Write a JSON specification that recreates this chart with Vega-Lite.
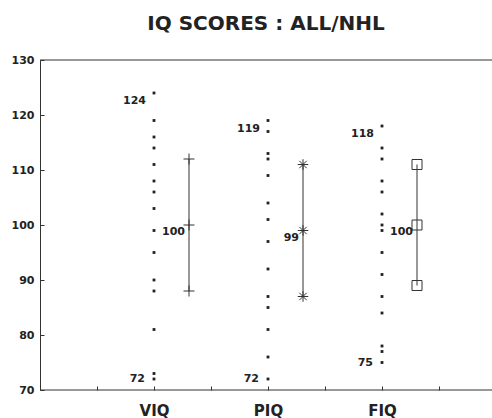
{
  "$schema": "https://vega.github.io/schema/vega-lite/v6.json",
  "width": 452,
  "height": 330,
  "autosize": {"type": "none"},
  "padding": {"left": 40, "top": 60, "right": 0, "bottom": 28},
  "background": "white",
  "config": {"view": {"stroke": null}, "font": "DejaVu Sans"},
  "title": {"text": "IQ SCORES : ALL/NHL", "fontSize": 20, "fontWeight": "bold", "font": "DejaVu Sans", "color": "#222", "offset": 20, "anchor": "middle"},
  "datasets": {
    "scores": [
      {"test": "VIQ", "iq": 124}, {"test": "VIQ", "iq": 119}, {"test": "VIQ", "iq": 116}, {"test": "VIQ", "iq": 114},
      {"test": "VIQ", "iq": 111}, {"test": "VIQ", "iq": 108}, {"test": "VIQ", "iq": 106}, {"test": "VIQ", "iq": 103},
      {"test": "VIQ", "iq": 99}, {"test": "VIQ", "iq": 95}, {"test": "VIQ", "iq": 90}, {"test": "VIQ", "iq": 88},
      {"test": "VIQ", "iq": 81}, {"test": "VIQ", "iq": 73}, {"test": "VIQ", "iq": 72},
      {"test": "PIQ", "iq": 119}, {"test": "PIQ", "iq": 117}, {"test": "PIQ", "iq": 113}, {"test": "PIQ", "iq": 112},
      {"test": "PIQ", "iq": 109}, {"test": "PIQ", "iq": 104}, {"test": "PIQ", "iq": 101}, {"test": "PIQ", "iq": 97},
      {"test": "PIQ", "iq": 92}, {"test": "PIQ", "iq": 87}, {"test": "PIQ", "iq": 85}, {"test": "PIQ", "iq": 81},
      {"test": "PIQ", "iq": 76}, {"test": "PIQ", "iq": 72},
      {"test": "FIQ", "iq": 118}, {"test": "FIQ", "iq": 114}, {"test": "FIQ", "iq": 112}, {"test": "FIQ", "iq": 108},
      {"test": "FIQ", "iq": 106}, {"test": "FIQ", "iq": 102}, {"test": "FIQ", "iq": 100}, {"test": "FIQ", "iq": 99},
      {"test": "FIQ", "iq": 95}, {"test": "FIQ", "iq": 91}, {"test": "FIQ", "iq": 87}, {"test": "FIQ", "iq": 84},
      {"test": "FIQ", "iq": 78}, {"test": "FIQ", "iq": 77}, {"test": "FIQ", "iq": 75}
    ],
    "stats": [
      {"test": "VIQ", "lo": 88, "mean": 100, "hi": 112},
      {"test": "PIQ", "lo": 87, "mean": 99, "hi": 111},
      {"test": "FIQ", "lo": 89, "mean": 100, "hi": 111}
    ]
  },
  "layer": [
    {
      "data": {"values": [{}]},
      "mark": {"type": "rule", "color": "#333", "strokeWidth": 1},
      "encoding": {"y": {"datum": 130, "type": "quantitative"}}
    },
    {
      "data": {"values": [{}]},
      "mark": {"type": "rule", "color": "#333", "strokeWidth": 1},
      "encoding": {"y": {"datum": 70, "type": "quantitative"}}
    },
    {
      "data": {"name": "scores"},
      "mark": {"type": "point", "shape": "square", "filled": true, "size": 8, "opacity": 1, "color": "#222"},
      "encoding": {
        "x": {
          "field": "test", "type": "nominal",
          "scale": {"type": "point", "domain": ["t1", "VIQ", "t3", "PIQ", "t5", "FIQ", "t7"], "range": [57, 399], "padding": 0},
          "axis": {
            "title": null, "domain": false, "grid": false, "ticks": true, "tickSize": -4, "tickColor": "#333",
            "labelExpr": "datum.value == 'VIQ' || datum.value == 'PIQ' || datum.value == 'FIQ' ? datum.value : ''",
            "labelFont": "DejaVu Sans", "labelFontSize": 15, "labelFontWeight": "bold", "labelColor": "#222",
            "labelPadding": 17, "labelAngle": 0
          }
        },
        "y": {
          "field": "iq", "type": "quantitative",
          "scale": {"domain": [70, 130], "nice": false, "zero": false},
          "axis": {
            "title": null, "values": [70, 80, 90, 100, 110, 120, 130], "grid": false,
            "domain": true, "domainColor": "#333", "ticks": true, "tickSize": -4, "tickColor": "#333",
            "labelFont": "DejaVu Sans", "labelFontSize": 11, "labelFontWeight": "bold", "labelColor": "#222",
            "labelPadding": 10
          }
        }
      }
    },
    {
      "data": {"name": "stats"},
      "mark": {"type": "rule", "xOffset": 35, "color": "#333", "strokeWidth": 1},
      "encoding": {
        "x": {"field": "test", "type": "nominal"},
        "y": {"field": "lo", "type": "quantitative"},
        "y2": {"field": "hi"}
      }
    },
    {
      "data": {"name": "stats"},
      "transform": [{"fold": ["lo", "mean", "hi"], "as": ["stat", "iq"]}],
      "mark": {"type": "point", "xOffset": 35, "filled": false, "opacity": 1, "color": "#333", "strokeWidth": 1},
      "encoding": {
        "x": {"field": "test", "type": "nominal"},
        "y": {"field": "iq", "type": "quantitative"},
        "shape": {"field": "test", "type": "nominal", "legend": null,
          "scale": {"domain": ["VIQ", "PIQ", "FIQ"], "range": ["M-1,0H1M0,-1V1", "M-1,0H1M0,-1V1M-0.7,-0.7L0.7,0.7M-0.7,0.7L0.7,-0.7", "square"]}},
        "size": {"field": "test", "type": "nominal", "legend": null,
          "scale": {"domain": ["VIQ", "PIQ", "FIQ"], "range": [121, 100, 64]}}
      }
    },
    {
      "data": {"name": "scores"},
      "transform": [{"aggregate": [{"op": "max", "field": "iq", "as": "hi"}, {"op": "min", "field": "iq", "as": "lo"}], "groupby": ["test"]}],
      "layer": [
        {
          "mark": {"type": "text", "align": "right", "baseline": "middle", "dx": -8, "dy": 8, "fontSize": 11, "fontWeight": "bold", "color": "#222"},
          "encoding": {
            "x": {"field": "test", "type": "nominal"},
            "y": {"field": "hi", "type": "quantitative"},
            "text": {"field": "hi", "type": "quantitative", "format": "d"}
          }
        },
        {
          "mark": {"type": "text", "align": "right", "baseline": "middle", "dx": -9, "dy": 0, "fontSize": 11, "fontWeight": "bold", "color": "#222"},
          "encoding": {
            "x": {"field": "test", "type": "nominal"},
            "y": {"field": "lo", "type": "quantitative"},
            "text": {"field": "lo", "type": "quantitative", "format": "d"}
          }
        }
      ]
    },
    {
      "data": {"name": "stats"},
      "mark": {"type": "text", "align": "right", "baseline": "middle", "dx": 31, "dy": 7, "fontSize": 11, "fontWeight": "bold", "color": "#222"},
      "encoding": {
        "x": {"field": "test", "type": "nominal"},
        "y": {"field": "mean", "type": "quantitative"},
        "text": {"field": "mean", "type": "quantitative", "format": "d"}
      }
    }
  ]
}
